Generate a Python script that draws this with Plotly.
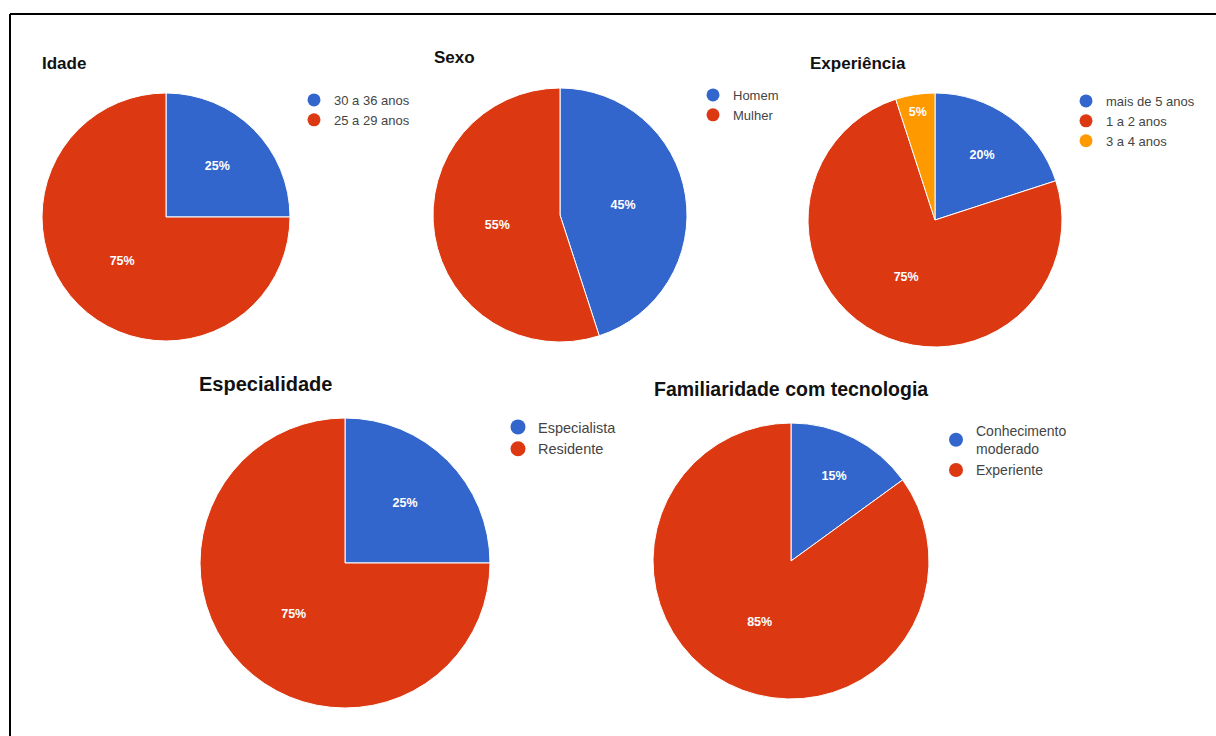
import plotly.graph_objects as go

W, H = 1216, 736

# ---- data ----
idade_labels = ["30 a 36 anos", "25 a 29 anos"]
idade_values = [25, 75]
sexo_labels = ["Homem", "Mulher"]
sexo_values = [45, 55]
exp_labels = ["mais de 5 anos", "1 a 2 anos", "3 a 4 anos"]
exp_values = [20, 75, 5]
esp_labels = ["Especialista", "Residente"]
esp_values = [25, 75]
fam_labels = ["Conhecimento<br>moderado", "Experiente"]
fam_values = [15, 85]

titles = ["Idade", "Sexo", "Experiência", "Especialidade", "Familiaridade com tecnologia"]
palette = ["#3366CC", "#DC3912", "#FF9900"]

FONT = "Liberation Sans, Arial, sans-serif"

# ---- layout specs (pixels) ----
# (cx, cy, r)
pies = [
    (idade_labels, idade_values, (166, 217, 124)),
    (sexo_labels, sexo_values, (560, 215, 127)),
    (exp_labels, exp_values, (935, 220, 127)),
    (esp_labels, esp_values, (345, 563, 145)),
    (fam_labels, fam_values, (791, 561, 138)),
]
title_pos = [(40, 63, 17), (432, 57, 17), (808, 63, 17), (197, 384, 20), (652, 389, 19.5)]
# legend: marker center x, first item center y, font size, marker size
legend_pos = [(318, 97, 13, 13), (717, 92, 13, 13), (1090, 98, 13, 13),
              (522, 423, 14.5, 15), (960, 427, 14, 14)]

def px(x):
    return x / W

def py(y):
    return 1 - y / H

fig = go.Figure()
layout_legends = {}
annotations = []

for i, (labels, values, (cx, cy, r)) in enumerate(pies):
    lname = "legend" if i == 0 else f"legend{i+1}"
    fig.add_trace(go.Pie(
        labels=labels,
        values=values,
        sort=False,
        direction="clockwise",
        rotation=0,
        marker=dict(colors=palette[:len(values)], line=dict(color="white", width=1)),
        textinfo="percent",
        texttemplate="%{percent:.0%}",
        textposition="inside",
        insidetextorientation="horizontal",
        insidetextfont=dict(color="white", size=12.5, family=FONT, weight="bold"),
        domain=dict(x=[px(cx - r), px(cx + r)], y=[py(cy + r), py(cy - r)]),
        showlegend=False,
        hoverinfo="label+percent",
    ))
    mx, my, fs, ms = legend_pos[i]
    # legend entries with circle symbols
    for j, lab in enumerate(labels):
        fig.add_trace(go.Scatter(
            x=[None], y=[None], mode="markers", name=lab,
            marker=dict(color=palette[j], size=ms, symbol="circle"),
            legend=lname, showlegend=True, hoverinfo="skip",
        ))
    layout_legends[lname] = dict(
        x=px(mx - 24), y=py(my - 12), xanchor="left", yanchor="top",
        bgcolor="rgba(0,0,0,0)", borderwidth=0,
        font=dict(family=FONT, size=fs, color="#444444"),
        itemwidth=30, tracegroupgap=0, traceorder="normal",
    )
    tx, ty, tfs = title_pos[i]
    annotations.append(dict(
        text=f"<b>{titles[i]}</b>", x=px(tx), y=py(ty), xref="paper", yref="paper",
        xanchor="left", yanchor="middle", showarrow=False,
        font=dict(family=FONT, size=tfs, color="#111111"),
    ))

fig.update_layout(
    width=W, height=H,
    margin=dict(l=0, r=0, t=0, b=0),
    paper_bgcolor="white", plot_bgcolor="rgba(0,0,0,0)",
    xaxis=dict(visible=False, range=[0, 1]),
    yaxis=dict(visible=False, range=[0, 1]),
    annotations=annotations,
    shapes=[
        dict(type="line", xref="paper", yref="paper", x0=px(10), x1=1.01, y0=py(14), y1=py(14),
             line=dict(color="black", width=2)),
        dict(type="line", xref="paper", yref="paper", x0=px(10), x1=px(10), y0=py(14), y1=-0.01,
             line=dict(color="black", width=2)),
    ],
    **layout_legends,
)

fig.write_html("out.html")
